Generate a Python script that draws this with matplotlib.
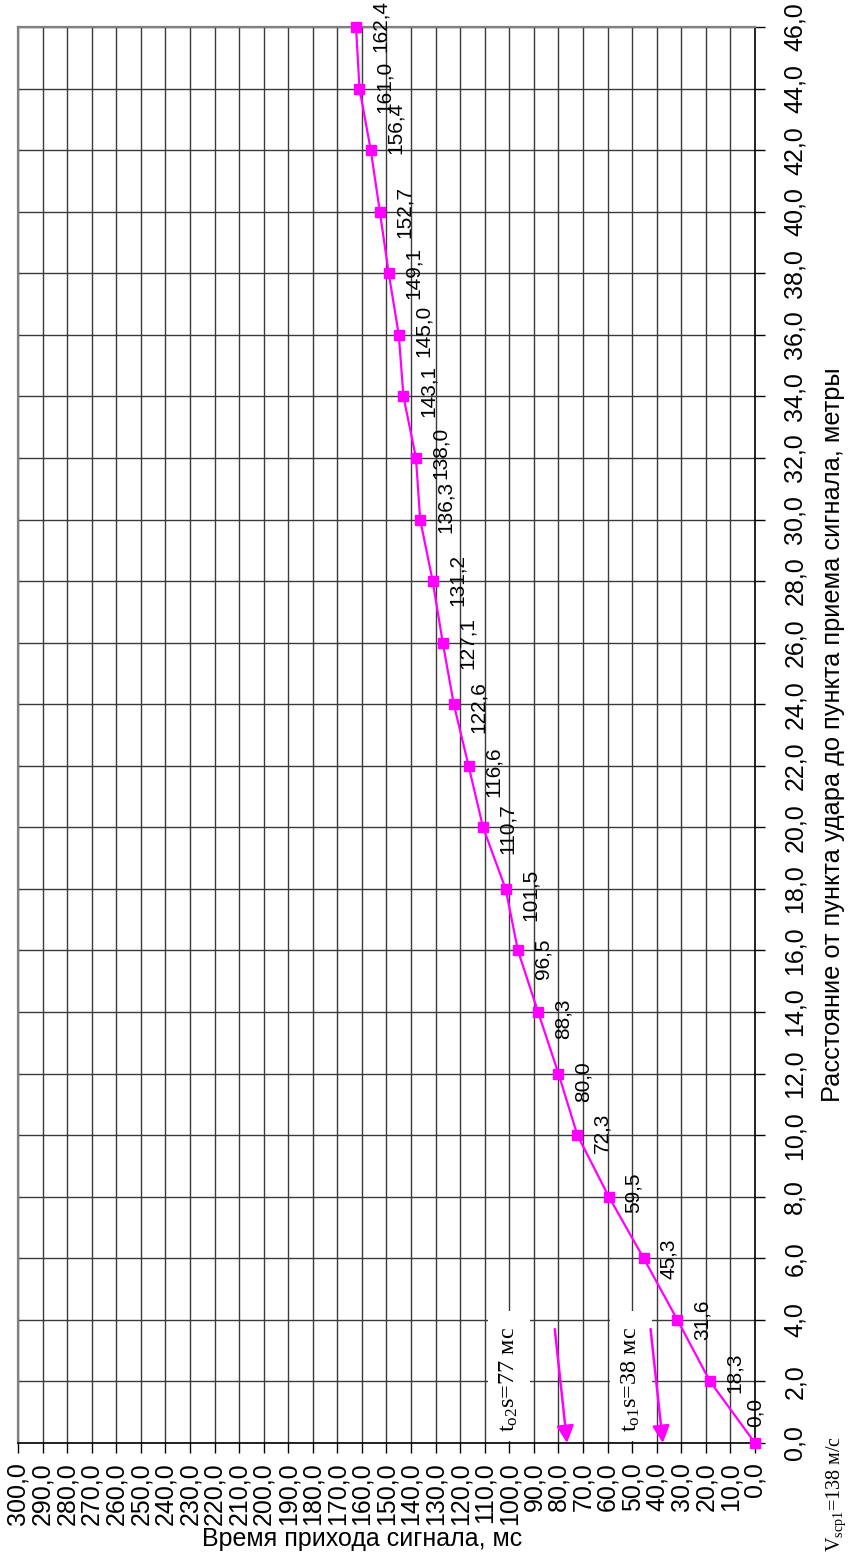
import matplotlib
matplotlib.use("Agg")
import matplotlib.pyplot as plt
from matplotlib.patches import Rectangle

# distance from impact point (m) and signal arrival time (ms)
distance = [0, 2, 4, 6, 8, 10, 12, 14, 16, 18, 20, 22, 24, 26, 28, 30, 32, 34, 36, 38, 40, 42, 44, 46]
arrival_time = [0.0, 18.3, 31.6, 45.3, 59.5, 72.3, 80.0, 88.3, 96.5, 101.5, 110.7, 116.6,
                122.6, 127.1, 131.2, 136.3, 138.0, 143.1, 145.0, 149.1, 152.7, 156.4, 161.0, 162.4]

time_ticks = list(range(0, 301, 10))
distance_ticks = list(range(0, 47, 2))

# intercept times
t01s = 38
t02s = 77
v_label = r"V$_{\rm scp1}$=138 м/с"
title = "ПНСМ-1 С-10"

# hand placement of the point labels (points)
label_dx = [-7] + [11] * 23
label_dy = [22, 6, 0, 0, 3, 2, -6, -5, -6, -4, -1, -4, -2, 0, 1, 9, 4, 4, 3, 0, 0, 16, 1, 1]

plt.rcParams['font.family'] = ['Liberation Sans', 'DejaVu Sans']
plt.rcParams['mathtext.fontset'] = 'custom'
plt.rcParams['mathtext.rm'] = 'Liberation Serif'
plt.rcParams['mathtext.it'] = 'Liberation Serif:italic'

W, H = 849, 1555
fig = plt.figure(figsize=(W / 100, H / 100), dpi=100)
ax = fig.add_axes([18 / W, 112 / H, 737 / W, 1416 / H])

magenta = "#ff00ff"
ax.plot(arrival_time, distance, color=magenta, lw=1.6, marker="s", ms=6.5,
        zorder=4, clip_on=False)

for t, d, dx, dy in zip(arrival_time, distance, label_dx, label_dy):
    ax.annotate(f"{t:.1f}".replace(".", ","), (t, d), xytext=(dx, dy),
                textcoords="offset points", rotation=90, ha="left", va="center",
                fontsize=15, zorder=5, annotation_clip=False)

ax.set_xlim(300, 0)
ax.set_ylim(0, 46)
ax.set_xticks(time_ticks)
ax.set_xticklabels([f"{t:.1f}".replace(".", ",") for t in time_ticks], rotation=90, fontsize=18)
ax.yaxis.tick_right()
ax.set_yticks(distance_ticks)
ax.set_yticklabels([f"{d:.1f}".replace(".", ",") for d in distance_ticks], rotation=90,
                   fontsize=18, va="center")
ax.tick_params(axis="x", direction="out", length=7, width=1, pad=7)
ax.tick_params(axis="y", direction="out", length=7, width=1, pad=13)

ax.set_axisbelow(True)
ax.grid(True, color="#3a3a3a", lw=1)
for side in ["left", "top"]:
    ax.spines[side].set_color("#808080")
    ax.spines[side].set_linewidth(1.6)
for side in ["right", "bottom"]:
    ax.spines[side].set_color("black")
    ax.spines[side].set_linewidth(1.2)

ax.set_xlabel("Время прихода сигнала, мс", fontsize=18)
ax.xaxis.set_label_coords(0.467, -0.0595)
ax.yaxis.set_label_position("right")
ax.set_ylabel("Расстояние от пункта удара до пункта приема сигнала, метры", fontsize=18.3)
ax.yaxis.set_label_coords(1.090, 0.5)

# intercept-time annotations with white boxes over the grid
for t0, tx, txt in [(t02s, 100, r"t$_{\rm o2}$s=" + f"{t02s} мс"),
                    (t01s, 50.5, r"t$_{\rm o1}$s=" + f"{t01s} мс")]:
    ax.add_patch(Rectangle((tx - 8.5, 0.08), 17, 4.2, facecolor="white",
                           edgecolor="none", zorder=1.5))
    ax.text(tx, 2.05, txt, rotation=90, ha="center", va="center", fontsize=17.5,
            family="Liberation Serif", zorder=3)
    ax.annotate("", xy=(t0 - 0.5, 0), xytext=(t0 + 4.5, 3.7),
                arrowprops=dict(arrowstyle="-|>", color=magenta, lw=1.8,
                                mutation_scale=26, shrinkA=0, shrinkB=0),
                zorder=4, annotation_clip=False)

fig.text(836 / W, 1 - 1494 / H, v_label, rotation=90, ha="center", va="center",
         fontsize=14.5, family="Liberation Serif")
fig.text(8 / W, 1 - 723 / H, title, rotation=90, ha="right", va="center",
         fontsize=24, family="Liberation Serif")

fig.savefig("out.png", dpi=100)
